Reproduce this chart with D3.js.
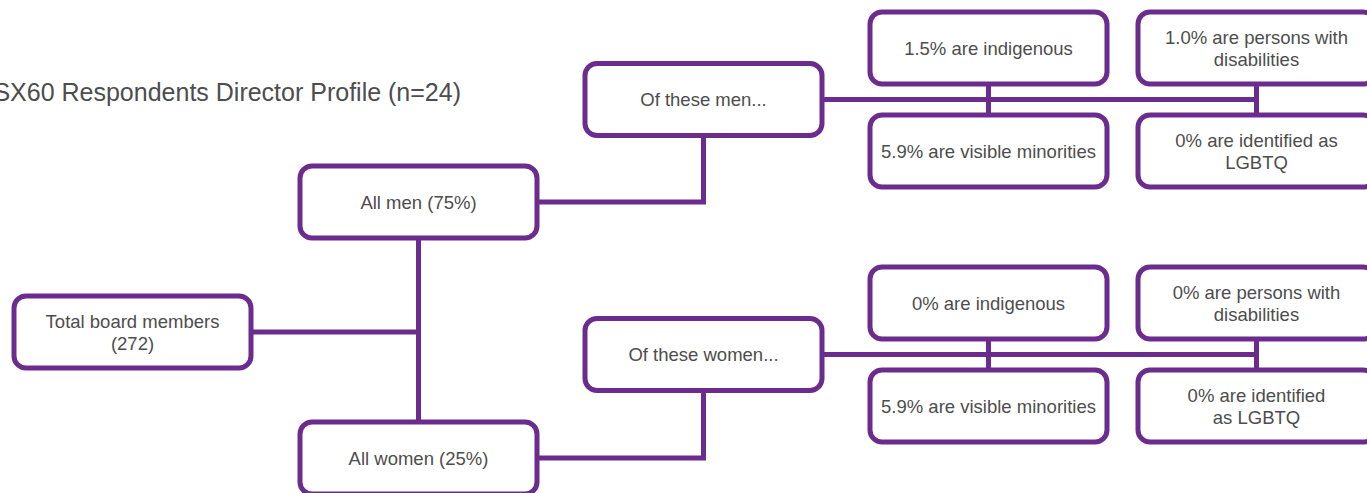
<!DOCTYPE html>
<html>
<head>
<meta charset="utf-8">
<script src="https://cdn.jsdelivr.net/npm/d3@7"></script>
<style>
  body { margin: 0; background: #fff; }
  svg { display: block; font-family: "Liberation Sans", Arial, sans-serif; }
  .box { fill: #fff; stroke: #6b2c8d; stroke-width: 5; }
  .link { fill: none; stroke: #6b2c8d; stroke-width: 5; }
  .label { fill: #4d4d4d; font-size: 18.5px; text-anchor: middle; }
</style>
</head>
<body>
<div class="chart-wrapper"></div>
<script>
// chart data
const title = "TSX60 Respondents Director Profile (n=24)";
const totalLines = ["Total board members", "(272)"];
const genders = ["men", "women"];
const genderLines = [["All men (75%)"], ["All women (25%)"]];
const ofTheseLines = [["Of these men..."], ["Of these women..."]];
// stats per gender: top-left, top-right, bottom-left, bottom-right
const menStatLines = [
    ["1.5% are indigenous"],
    ["1.0% are persons with", "disabilities"],
    ["5.9% are visible minorities"],
    ["0% are identified as", "LGBTQ"]
];
const womenStatLines = [
    ["0% are indigenous"],
    ["0% are persons with", "disabilities"],
    ["5.9% are visible minorities"],
    ["0% are identified", "as LGBTQ"]
];
const statLines = [menStatLines, womenStatLines];

const width = 1367, height = 493;
const boxW = 237, boxH = 72, radius = 12;

const svg = d3.select(".chart-wrapper").append("svg")
    .attr("width", width)
    .attr("height", height);

// layout scales: column left edges and vertical centers
const colX = d3.scaleOrdinal().domain([0, 1, 2, 3, 4]).range([14, 300, 585, 870, 1138]);
const groupY = d3.scaleOrdinal().domain(genders).range([99.5, 354.5]);
const genderY = d3.scaleOrdinal().domain(genders).range([202, 458]);
const statOffset = d3.scaleOrdinal().domain([0, 1]).range([-51.5, 51.5]);
const totalY = 332;
const cx = c => colX(c) + boxW / 2;

// build nodes and links
const nodes = [{ col: 0, cy: totalY, lines: totalLines }];
const links = [];

genders.forEach((g, gi) => {
    const gy = genderY(g), oy = groupY(g);
    nodes.push({ col: 1, cy: gy, lines: genderLines[gi] });
    nodes.push({ col: 2, cy: oy, lines: ofTheseLines[gi] });
    statLines[gi].forEach((lines, si) => {
        nodes.push({ col: 3 + (si % 2), cy: oy + statOffset(Math.floor(si / 2)), lines });
    });

    // gender box -> "of these" box
    links.push([[colX(1) + boxW, gy], [cx(2), gy], [cx(2), oy]]);
    // "of these" -> horizontal spine
    links.push([[colX(2) + boxW, oy], [cx(4), oy]]);
    // vertical stubs joining stat pairs
    [3, 4].forEach(c => {
        links.push([[cx(c), oy + statOffset(0)], [cx(c), oy + statOffset(1)]]);
    });
});

// total -> trunk, trunk between genders
links.push([[colX(0) + boxW, totalY], [cx(1), totalY]]);
links.push([[cx(1), genderY("men")], [cx(1), genderY("women")]]);

// draw links
svg.append("g").selectAll("path")
    .data(links)
    .join("path")
    .attr("class", "link")
    .attr("d", d3.line());

// draw boxes
const node = svg.append("g").selectAll("g")
    .data(nodes)
    .join("g")
    .attr("transform", d => `translate(${colX(d.col)},${d.cy - boxH / 2})`);

node.append("rect")
    .attr("class", "box")
    .attr("width", boxW)
    .attr("height", boxH)
    .attr("rx", radius)
    .attr("ry", radius);

const lineH = 22;
node.append("text")
    .attr("class", "label")
    .selectAll("tspan")
    .data(d => d.lines.map((t, i) => ({ t, i, n: d.lines.length })))
    .join("tspan")
    .attr("x", boxW / 2)
    .attr("y", d => boxH / 2 + 6.5 + (d.i - (d.n - 1) / 2) * lineH)
    .text(d => d.t);

// title
svg.append("text")
    .attr("x", 461)
    .attr("y", 101)
    .attr("text-anchor", "end")
    .style("font-size", "25px")
    .style("fill", "#4d4d4d")
    .text(title);
</script>
</body>
</html>
